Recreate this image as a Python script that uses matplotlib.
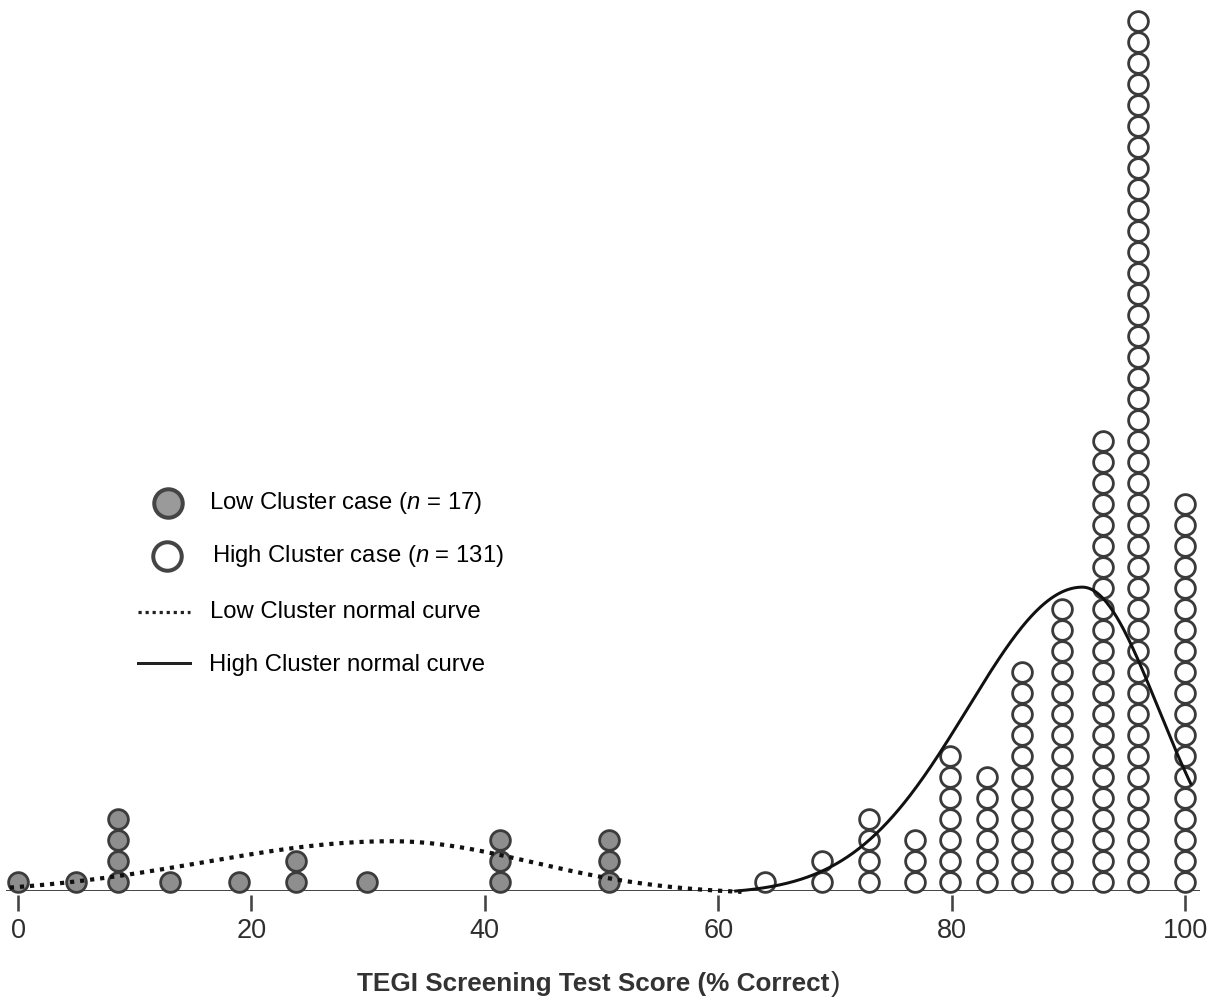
import numpy as np
import matplotlib
matplotlib.use("Agg")
import matplotlib.pyplot as plt
from matplotlib.lines import Line2D

plt.rcParams["font.family"] = ["Liberation Sans", "DejaVu Sans"]
plt.rcParams["mathtext.fontset"] = "custom"
plt.rcParams["mathtext.rm"] = "Liberation Sans"
plt.rcParams["mathtext.it"] = "Liberation Sans:italic"

# Puntajes (% correcto) y número de casos apilados en cada puntaje
low_scores = [0.0, 5.0, 8.6, 13.0, 18.9, 23.8, 29.9, 41.3, 50.6]
low_counts = [1, 1, 4, 1, 1, 2, 1, 3, 3]

high_scores = [64.0, 68.9, 72.9, 76.9, 79.9, 83.0, 86.0, 89.5, 93.0, 96.0, 100.0]
high_counts = [1, 2, 4, 3, 7, 6, 11, 14, 22, 42, 19]

# Curvas normales: moda, altura (en casos), desvío izq./der., tramo dibujado
low_curve = dict(mode=32.0, peak=2.52, sd_left=16.0, sd_right=12.0, start=-0.7, end=62.0)
high_curve = dict(mode=91.2, peak=14.62, sd_left=9.8, sd_right=6.5, start=61.5, end=100.5)
curve_floor = -0.15

x_ticks = [0, 20, 40, 60, 80, 100]
x_label = "TEGI Screening Test Score (% Correct"

W, H, DPI = 1215, 1001, 100
PX_PT = 72 / DPI


def px(x, y):
    """Convierte píxeles (origen arriba a la izquierda) a fracción de figura."""
    return x / W, 1 - y / H


def curva(p):
    xs = np.linspace(p["start"], p["end"], 400)
    sd = np.where(xs < p["mode"], p["sd_left"], p["sd_right"])
    ys = p["peak"] * np.exp(-((xs - p["mode"]) ** 2) / (2 * sd ** 2)) + curve_floor
    return xs, ys


fig = plt.figure(figsize=(W / DPI, H / DPI), dpi=DPI)

# ejes: x=0 en 18 px, 11.67 px por punto; cada caso ocupa 21 px de alto
x_left, x_right = -1.0, 101.3
ax_l = 18 + x_left * 11.67
ax_r = 18 + x_right * 11.67
base_y = 891
ax = fig.add_axes([ax_l / W, (H - base_y) / H, (ax_r - ax_l) / W, base_y / H])
ax.set_xlim(x_left, x_right)
ax.set_ylim(0, base_y / 21)

for s in ["top", "right", "left"]:
    ax.spines[s].set_visible(False)
ax.spines["bottom"].set_visible(False)
ax.spines["bottom"].set_position(("outward", 4 * PX_PT))
ax.set_yticks([])
ax.set_xticks(x_ticks)
ax.set_xticklabels([str(t) for t in x_ticks])
ax.tick_params(axis="x", direction="out", length=16 * PX_PT, width=2.6 * PX_PT,
               color="#444444", labelsize=19.5, labelcolor="#2e2e2e", pad=7 * PX_PT)
ax.axhline(0, color="#333333", lw=2.8 * PX_PT, zorder=2)

# puntos apilados
for xv, n in zip(low_scores, low_counts):
    ax.plot([xv] * n, np.arange(n) + 0.43, "o", ms=14.2, mew=2.8 * PX_PT,
            mfc="#8e8e8e", mec="#3c3c3c", clip_on=False, zorder=3)
for xv, n in zip(high_scores, high_counts):
    ax.plot([xv] * n, np.arange(n) + 0.43, "o", ms=14.2, mew=2.8 * PX_PT,
            mfc="white", mec="#3a3a3a", clip_on=False, zorder=3)

# curvas normales encima de los puntos
xs, ys = curva(low_curve)
ax.plot(xs, ys, color="#111111", lw=4.2 * PX_PT, linestyle=(0, (1, 1.4)),
        dash_capstyle="butt", clip_on=False, zorder=4)
xs, ys = curva(high_curve)
ax.plot(xs, ys, color="#111111", lw=3 * PX_PT, clip_on=False, zorder=4)

# leyenda
fx, fy = px(168, 503)
fig.add_artist(Line2D([fx], [fy], marker="o", ms=20.5, mew=4 * PX_PT,
                      mfc="#9a9a9a", mec="#444444", transform=fig.transFigure))
fx, fy = px(167, 556)
fig.add_artist(Line2D([fx], [fy], marker="o", ms=20.5, mew=4 * PX_PT,
                      mfc="white", mec="#444444", transform=fig.transFigure))
(x0, y0), (x1, _) = px(138, 612), px(190, 612)
fig.add_artist(Line2D([x0, x1], [y0, y0], color="#222222", lw=3.2 * PX_PT,
                      linestyle=(0, (1, 1.2)), dash_capstyle="butt",
                      transform=fig.transFigure))
(x0, y0), (x1, _) = px(138, 663), px(190, 663)
fig.add_artist(Line2D([x0, x1], [y0, y0], color="#222222", lw=3 * PX_PT,
                      transform=fig.transFigure))

legend_texts = [
    (209, 503, r"Low Cluster case ($\it{n}$ = 17)"),
    (212, 556, r"High Cluster case ($\it{n}$ = 131)"),
    (210, 612, "Low Cluster normal curve"),
    (209, 665, "High Cluster normal curve"),
]
for tx, ty, txt in legend_texts:
    fx, fy = px(tx, ty)
    fig.text(fx, fy, txt, fontsize=17.2, color="black", ha="left", va="center")

# título del eje x
fx, fy = px(357, 984)
lbl = fig.text(fx, fy, x_label, fontsize=18.8, fontweight="bold", color="#333333",
               ha="left", va="center")
fig.canvas.draw()
bb = lbl.get_window_extent()
fig.text(bb.x1 / W + 1 / W, fy, ")", fontsize=20, color="#333333",
         ha="left", va="center")

fig.savefig("out.png", dpi=DPI)
